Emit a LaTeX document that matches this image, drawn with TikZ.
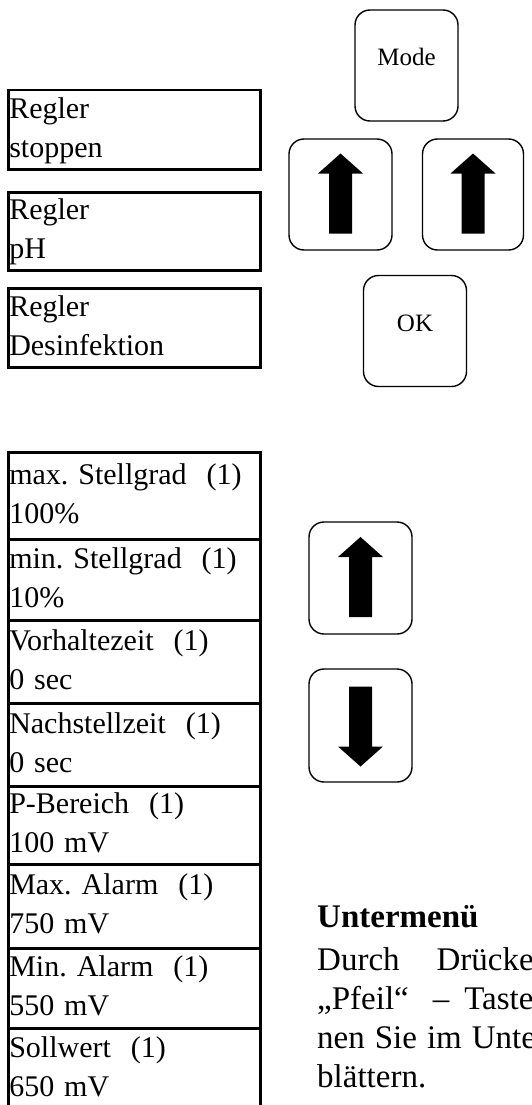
\documentclass[tikz,border=0pt]{standalone}
\usepackage{fontspec}
\setmainfont{Liberation Serif}
\frenchspacing

\tikzset{
  feld/.style={draw, line width=2.5pt, anchor=north west, minimum width=252pt,
    text width=250pt, align=left, inner xsep=1pt, inner ysep=0pt,
    font=\fontsize{30}{39}\selectfont,
    execute at begin node=\strut, execute at end node=\strut},
  taste/.style={draw, line width=1.4pt, rounded corners=15pt,
    minimum width=103pt, minimum height=111pt,
    font=\fontsize{25}{28}\selectfont, text height=9pt, text depth=9pt},
  absatz/.style={anchor=base west, inner sep=0pt, font=\fontsize{33}{40}\selectfont}
}

\begin{document}
\begin{tikzpicture}[x=1pt,y=-1pt]
\useasboundingbox (0,0) rectangle (531,1105);

% Hauptmenue
\node[feld, minimum height=79pt] (stop) at (7,89) {Regler\\stoppen};
\node[feld, minimum height=78pt] (ph) at (7,191) {Regler\\pH};
\node[feld, minimum height=79pt] (desi) at (7,287) {Regler\\Desinfektion};

% Tasten oben
\node[taste] (mode) at (406.5,65.5) {Mode};
\node[taste] (upL) at (340.5,194.5) {};
\node[taste, minimum width=101pt] (upR) at (473,194.5) {};
\node[taste] (ok) at (415,331) {OK};

% Untermenue
\foreach \n/\y/\hh/\txt in {
    smax/451/87/{max. Stellgrad~~(1)\\100\%},
    smin/538/81/{min. Stellgrad~~(1)\\10\%},
    vorh/619/83/{Vorhaltezeit~~(1)\\0 sec},
    nach/702/83/{Nachstellzeit~~(1)\\0 sec},
    pber/785/78/{P-Bereich~~(1)\\100 mV},
    amax/863/84/{Max. Alarm~~(1)\\750 mV},
    amin/947/80/{Min. Alarm~~(1)\\550 mV},
    soll/1027/82/{Sollwert~~(1)\\650 mV}}
  \node[feld, minimum height=\hh pt] (\n) at (7,\y) {\txt};

% Tasten unten
\node[taste, minimum height=112pt] (up) at (360.5,578) {};
\node[taste, minimum height=113pt] (down) at (360.5,725.5) {};

% Pfeile
\foreach \b in {upL,upR,up}
  \fill[shift={(\b)}] (0,-41) -- (22.5,-21) -- (11.5,-21) -- (11.5,39)
    -- (-11.5,39) -- (-11.5,-21) -- (-22.5,-21) -- cycle;
\fill[shift={(down)}, yscale=-1] (0,-41) -- (22.5,-21) -- (11.5,-21) -- (11.5,39)
    -- (-11.5,39) -- (-11.5,-21) -- (-22.5,-21) -- cycle;

% Text
\node[absatz, font=\fontsize{33}{40}\selectfont\bfseries] (titel) at (317,927) {Untermenü};
\node[absatz] (z1) at (317,970) {Durch\hspace{37pt}Drücke};
\node[absatz] (z2) at (317,1009) {„Pfeil“\hspace{24pt}–\hspace{15pt}Taste};
\node[absatz] (z3) at (317,1048) {nen\hspace{10pt}Sie\hspace{10pt}im\hspace{10pt}Unte};
\node[absatz] (z4) at (317,1087) {blättern.};
\end{tikzpicture}
\end{document}
